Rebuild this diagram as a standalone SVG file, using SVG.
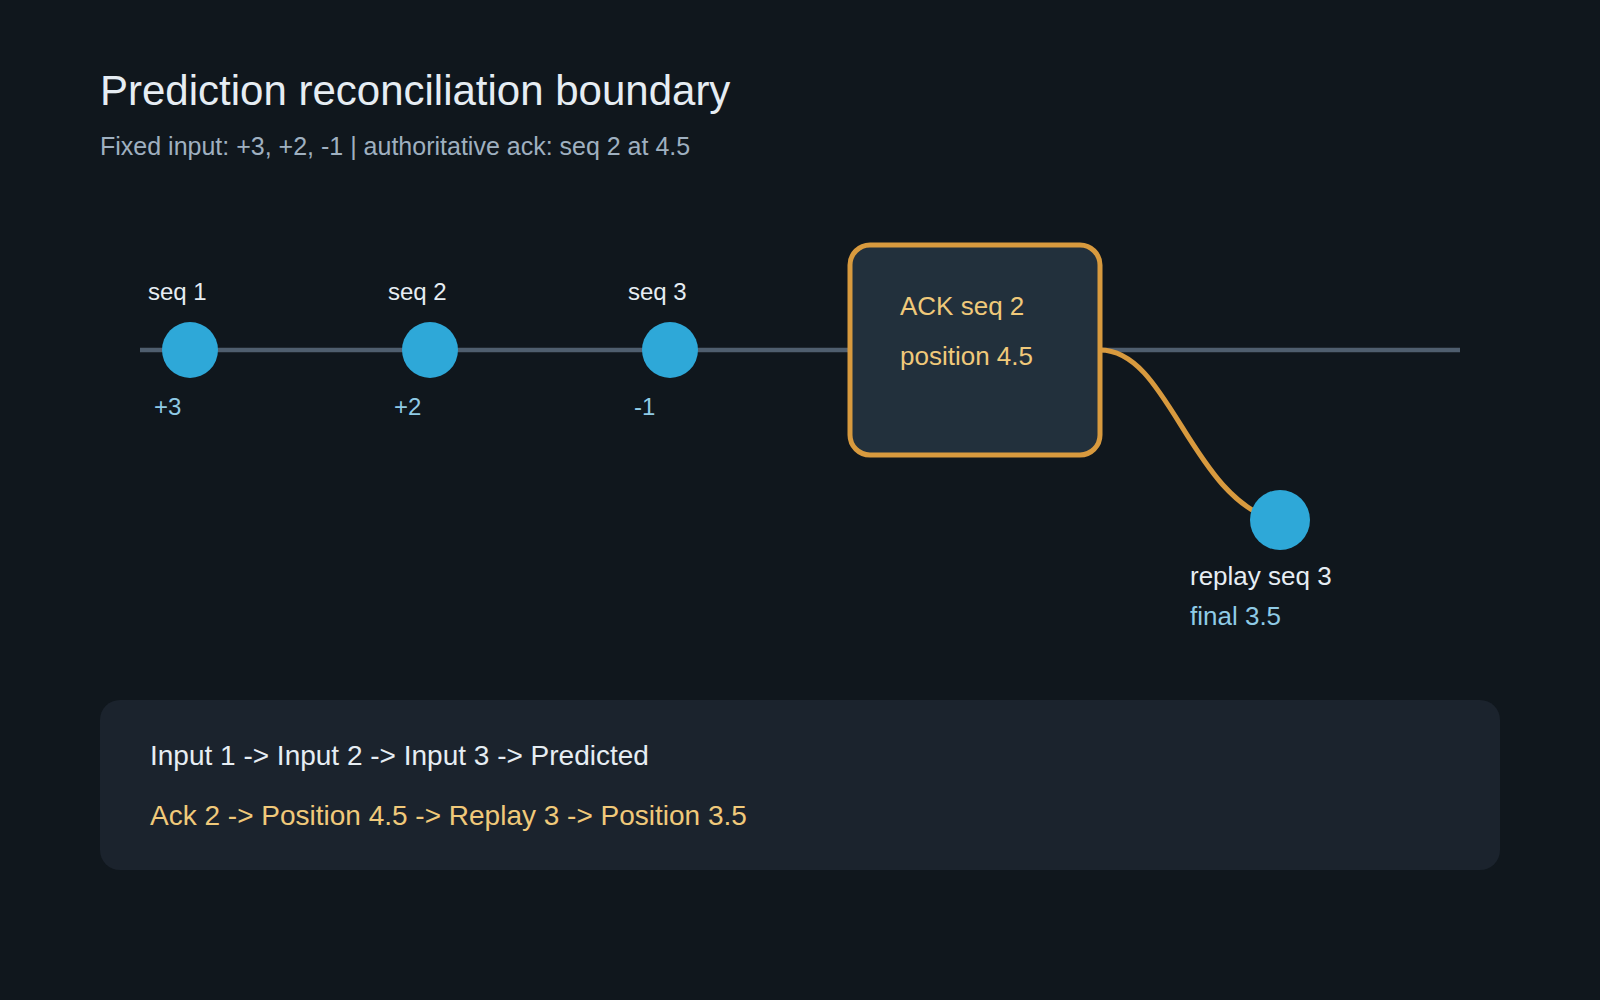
<svg xmlns="http://www.w3.org/2000/svg" width="1600" height="1000" viewBox="0 0 1600 1000">
<style>
text { font-family: "Liberation Sans", Arial, sans-serif; }
.title { font-size: 42px; fill: #e6edf3; }
.sub { font-size: 25px; fill: #9fb0c0; }
.seq { font-size: 24px; fill: #e6edf3; }
.val { font-size: 24px; fill: #8fcbe6; }
.big { font-size: 26px; }
.ack { font-size: 26px; fill: #f0c97a; }
.dot { fill: #2ea8d8; }
.line1 { font-size: 28px; fill: #e6edf3; }
.line2 { font-size: 28px; fill: #f0c97a; }
</style>
<rect x="0" y="0" width="1600" height="1000" fill="#10171d"/>
<text class="title" x="100" y="105">Prediction reconciliation boundary</text>
<text class="sub" x="100" y="155">Fixed input: +3, +2, -1 | authoritative ack: seq 2 at 4.5</text>
<g id="connectors">
  <line x1="140" y1="350" x2="1460" y2="350" stroke="#4f5e6e" stroke-width="4.5"/>
  <path d="M1100 350 C1170 350 1190 500 1280 522" fill="none" stroke="#d89a3e" stroke-width="5"/>
</g>
<g id="seq1">
  <circle class="dot" cx="190" cy="350" r="28"/>
  <text class="seq" x="148" y="300">seq 1</text>
  <text class="val" x="154" y="415">+3</text>
</g>
<g id="seq2">
  <circle class="dot" cx="430" cy="350" r="28"/>
  <text class="seq" x="388" y="300">seq 2</text>
  <text class="val" x="394" y="415">+2</text>
</g>
<g id="seq3">
  <circle class="dot" cx="670" cy="350" r="28"/>
  <text class="seq" x="628" y="300">seq 3</text>
  <text class="val" x="634" y="415">-1</text>
</g>
<g id="ack">
  <rect x="850" y="245" width="250" height="210" rx="20" fill="#22303c" stroke="#d89a3e" stroke-width="5"/>
  <text class="ack" x="900" y="315">ACK seq 2</text>
  <text class="ack" x="900" y="365">position 4.5</text>
</g>
<g id="replay">
  <circle class="dot" cx="1280" cy="520" r="30"/>
  <text class="seq big" x="1190" y="585">replay seq 3</text>
  <text class="val big" x="1190" y="625">final 3.5</text>
</g>
<g id="summary">
  <rect x="100" y="700" width="1400" height="170" rx="20" fill="#1b232d"/>
  <text class="line1" x="150" y="765">Input 1 -&gt; Input 2 -&gt; Input 3 -&gt; Predicted</text>
  <text class="line2" x="150" y="825">Ack 2 -&gt; Position 4.5 -&gt; Replay 3 -&gt; Position 3.5</text>
</g>
</svg>
